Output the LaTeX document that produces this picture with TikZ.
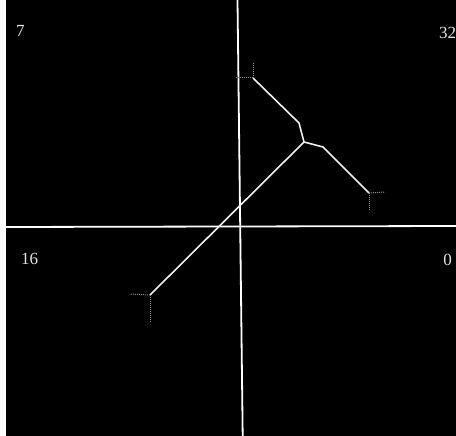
\documentclass[tikz,border=0pt]{standalone}
\usepackage{fontspec}
\setmainfont{Liberation Serif}
\begin{document}
\begin{tikzpicture}[x=1pt,y=-1pt,
  axis/.style={white,line width=1.8pt},
  limb/.style={white!94!black,line width=1.6pt},
  stub/.style={gray!90,densely dotted,line width=1pt},
  lbl/.style={text=white!90!black,font=\fontsize{17}{20}\selectfont,inner sep=0pt}]
\useasboundingbox (0,0) rectangle (456,436);
\fill[white] (0,0) rectangle (456,436);
\fill[black] (6,0) rectangle (456,436);
% axes
\coordinate (vt) at (237.5,0);
\coordinate (vb) at (242.7,436);
\coordinate (hl) at (6,227);
\coordinate (hr) at (456,226);
\draw[axis] (vt) -- (vb);
\draw[axis] (hl) -- (hr);
% joints
\coordinate (top) at (253,78);
\coordinate (elbow) at (299,123);
\coordinate (mid) at (304,142);
\coordinate (knee) at (323,147);
\coordinate (tip) at (369,193);
\coordinate (foot) at (150,295);
\draw[limb] (top) -- (elbow) -- (mid) -- (knee) -- (tip);
\draw[limb] (mid) -- (foot);
% end marks
\coordinate (topu) at (253,62);
\coordinate (topl) at (236,78);
\coordinate (tipr) at (385,192);
\coordinate (tipd) at (369,210);
\coordinate (footl) at (130,294);
\coordinate (footd) at (150,322);
\foreach \a/\b in {top/topu,top/topl,tip/tipr,tip/tipd,foot/footl,foot/footd} {
  \draw[stub] (\a) -- (\b);
}
\node[lbl] (n7) at (20.5,31) {7};
\node[lbl] (n32) at (447.5,32.5) {32};
\node[lbl] (n16) at (29.5,259) {16};
\node[lbl] (n0) at (447.5,259.5) {0};
\end{tikzpicture}
\end{document}
